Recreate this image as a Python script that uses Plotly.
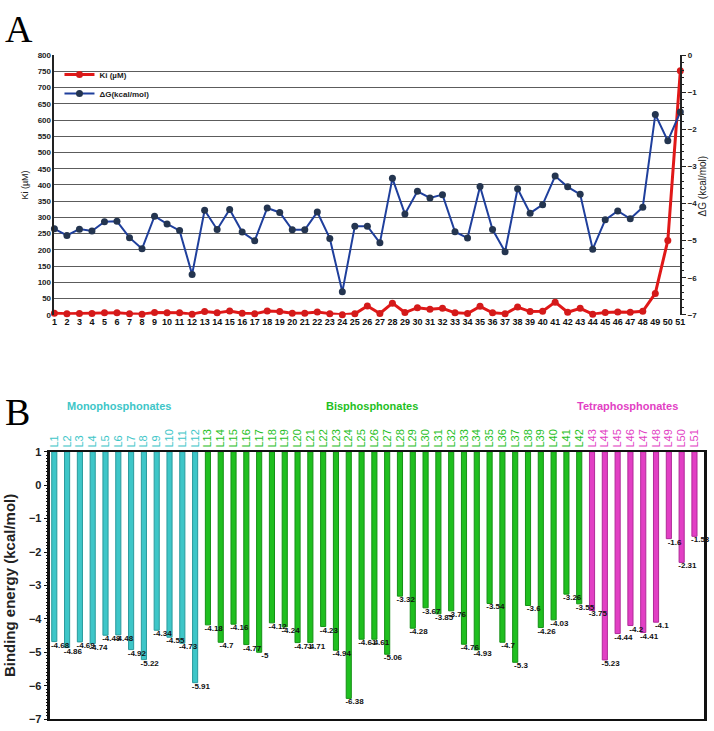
import plotly.graph_objects as go

# ---------------- data ----------------
compound_ids = list(range(1, 52))
ligand_labels = [f"L{i}" for i in compound_ids]

binding_energy = [-4.68, -4.86, -4.69, -4.74, -4.49, -4.48, -4.92, -5.22, -4.34, -4.55, -4.73, -5.91,
                  -4.18, -4.7, -4.16, -4.77, -5, -4.12, -4.24, -4.71, -4.71, -4.23, -4.94, -6.38,
                  -4.61, -4.61, -5.06, -3.32, -4.28, -3.67, -3.85, -3.76, -4.76, -4.93, -3.54, -4.7,
                  -5.3, -3.6, -4.26, -4.03, -3.26, -3.55,
                  -3.75, -5.23, -4.44, -4.2, -4.41, -4.1, -1.6, -2.31, -1.53]

ki_um = [5, 3, 4, 4, 6, 6, 3, 2, 7, 6, 6, 2, 10, 6, 12, 5, 3, 12, 10, 5, 5, 9, 3, 0,
         3, 27, 4, 36, 7, 22, 17, 20, 6, 4, 26, 6, 3, 24, 10, 11, 39, 8, 20, 2, 7, 9, 8, 11,
         66, 229, 752]

groups = ["Monophosphonates"] * 12 + ["Bisphosphonates"] * 30 + ["Tetraphosphonates"] * 9
group_colors = {"Monophosphonates": "#3ec6c8", "Bisphosphonates": "#1fbf1f", "Tetraphosphonates": "#e23fc4"}
group_edge = {"Monophosphonates": "#2a9a9c", "Bisphosphonates": "#159015", "Tetraphosphonates": "#b02a98"}

FONT = "Liberation Sans"

fig = go.Figure()

# ---------------- panel A ----------------
fig.add_trace(go.Scatter(
    x=compound_ids, y=ki_um, name="Ki (µM)", mode="lines+markers",
    line=dict(color="#e01818", width=3), marker=dict(color="#d41a1a", size=7),
    xaxis="x", yaxis="y", cliponaxis=False))
fig.add_trace(go.Scatter(
    x=compound_ids, y=binding_energy, name="ΔG(kcal/mol)", mode="lines+markers",
    line=dict(color="#1f3f9c", width=2), marker=dict(color="#243550", size=7),
    xaxis="x", yaxis="y2", cliponaxis=False))

# ---------------- panel B ----------------
idx = list(range(len(binding_energy)))
fig.add_trace(go.Bar(
    x=idx, y=[v - 1 for v in binding_energy], base=1,
    marker=dict(color=[group_colors[g] for g in groups],
                line=dict(color=[group_edge[g] for g in groups], width=1)),
    width=0.4, xaxis="x3", yaxis="y3", showlegend=False))
fig.add_trace(go.Scatter(
    x=[i + 0.45 for i in idx], y=[v - 0.12 for v in binding_energy],
    text=[f"{v:g}" for v in binding_energy], mode="text",
    textfont=dict(family=FONT, size=8, color="#111", weight="bold"),
    xaxis="x3", yaxis="y3", showlegend=False, cliponaxis=False))

tick_font = dict(family=FONT, size=8, color="#222", weight="bold")
lab_cols = [group_colors[g] for g in groups]
ticktext = [f"<span style='color:{c}'>{t}</span>" for c, t in zip(lab_cols, ligand_labels)]

fig.update_layout(
    width=714, height=731, margin=dict(l=0, r=0, t=0, b=0),
    paper_bgcolor="white", plot_bgcolor="white",
    font=dict(family=FONT, color="#222"),
    showlegend=True,
    legend=dict(x=0.08, y=0.925, xanchor="left", yanchor="top", bgcolor="rgba(0,0,0,0)",
                font=dict(family=FONT, size=8, color="#222", weight="bold"), tracegroupgap=2, itemwidth=30),
    xaxis=dict(domain=[0.0728, 0.9594], range=[1, 51], tickmode="linear", dtick=1,
               showgrid=False, zeroline=False, showline=False, ticks="",
               tickfont=dict(family=FONT, size=9, color="#111", weight="bold"), anchor="y"),
    yaxis=dict(domain=[0.5705, 0.9316], range=[0, 800], dtick=50, showgrid=True,
               gridcolor="#5c5c5c", gridwidth=1.4, zeroline=False, showline=True,
               linecolor="#222", linewidth=1.5, ticks="", tickfont=tick_font,
               title=dict(text="Ki (µM)", font=dict(family=FONT, size=9, color="#222"), standoff=8),
               anchor="x"),
    yaxis2=dict(domain=[0.5705, 0.9316], range=[-7, 0], dtick=1, overlaying="y", side="right",
                showgrid=False, zeroline=False, showline=True, linecolor="#222", linewidth=1.5,
                ticks="outside", ticklen=4, tickcolor="#222", tickfont=tick_font,
                minor=dict(dtick=0.2, ticks="outside", ticklen=2, tickcolor="#222"),
                anchor="x"),
    xaxis3=dict(domain=[0.0672, 0.993], range=[-0.3, 50.75], side="top",
                tickmode="array", tickvals=idx, ticktext=ticktext, tickangle=-90,
                tickfont=dict(family=FONT, size=11), ticks="", showgrid=False, zeroline=False,
                showline=True, mirror=True, linecolor="#111", linewidth=2, anchor="y3"),
    yaxis3=dict(domain=[0.0082, 0.380], range=[-7, 1], dtick=1, showgrid=False, zeroline=False,
                showline=True, mirror=True, linecolor="#111", linewidth=2.5,
                ticks="outside", ticklen=4, tickcolor="#111",
                minor=dict(dtick=0.1, ticks="outside", ticklen=2, tickcolor="#111"),
                tickfont=dict(family=FONT, size=11, color="#222", weight="bold"),
                title=dict(text="<b>Binding energy (kcal/mol)</b>",
                           font=dict(family=FONT, size=15, color="#222"), standoff=10),
                anchor="x3"),
)

annotations = [
    dict(text="A", x=0.0, y=1.0, xref="paper", yref="paper", xanchor="left", yanchor="top",
         showarrow=False, font=dict(family="Liberation Serif", size=38, color="#000")),
    dict(text="B", x=0.0, y=0.468, xref="paper", yref="paper", xanchor="left", yanchor="top",
         showarrow=False, font=dict(family="Liberation Serif", size=38, color="#000")),
    dict(text="ΔG (kcal/mol)", x=0.991, y=0.75, xref="paper", yref="paper", xanchor="center",
         yanchor="middle", textangle=-90, showarrow=False,
         font=dict(family=FONT, size=10, color="#222")),
]
group_titles = [("Monophosphonates", 0.165), ("Bisphosphonates", 0.523), ("Tetraphosphonates", 0.885)]
for name, xp in group_titles:
    annotations.append(dict(text=f"<b>{name}</b>", x=xp, y=0.443, xref="paper", yref="paper",
                            xanchor="center", yanchor="middle", showarrow=False,
                            font=dict(family=FONT, size=11, color=group_colors[name])))
fig.update_layout(annotations=annotations)

fig.write_html("out.html", config={"displayModeBar": False},
               post_script="document.body.style.margin='0';")
